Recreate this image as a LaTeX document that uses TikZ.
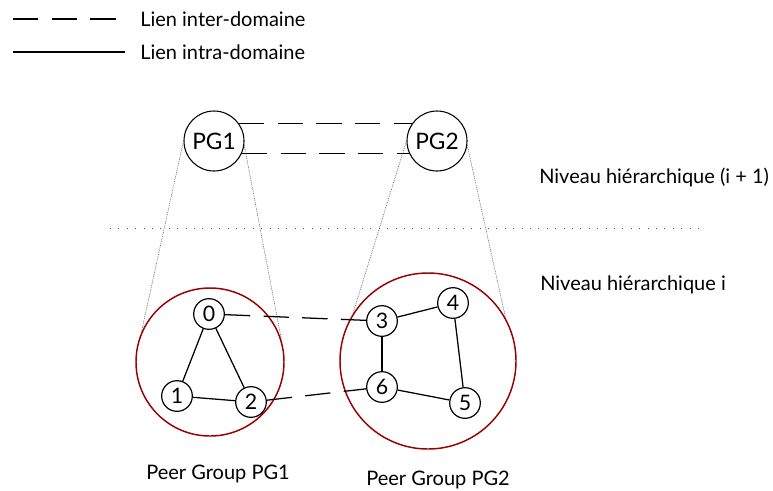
\documentclass[tikz,border=0pt]{standalone}
\usepackage{fontspec}
\setmainfont{Lato}
\begin{document}
\begin{tikzpicture}[x=0.75pt,y=-0.75pt,
    peer/.style={draw,circle,line width=0.9pt,minimum size=23pt,inner sep=0pt,font=\fontsize{16}{18}\selectfont},
    grp/.style={draw,circle,line width=0.8pt,minimum size=45pt,inner sep=0pt,font=\fontsize{17}{19}\selectfont},
    zone/.style={draw=red!60!black,circle,line width=1.1pt,inner sep=0pt},
    intra/.style={line width=0.95pt},
    inter/.style={line width=0.95pt,dash pattern=on 19pt off 10pt},
    zoomline/.style={gray!70!black,line width=0.4pt,dash pattern=on 0.7pt off 0.7pt},
    lbl/.style={anchor=west,inner sep=0pt},
    font=\fontsize{15}{18}\selectfont]
    \useasboundingbox (0,0) rectangle (773,490);
    %% legend
    \coordinate (d1) at (13,19);
    \coordinate (d2) at (118,19);
    \draw[inter] (d1) -- (d2);
    \node[lbl] (tinter) at (140,19) {Lien inter-domaine};
    \coordinate (s1) at (13,52);
    \coordinate (s2) at (125,52);
    \draw[intra] (s1) -- (s2);
    \node[lbl] (tintra) at (140,52) {Lien intra-domaine};
    %% upper level
    \node[grp] (pg1) at (214,141) {PG1};
    \node[grp] (pg2) at (437,141) {PG2};
    \draw[inter] (pg1.35) -- (pg2.145);
    \draw[inter] (pg1.-24) -- (pg2.-156);
    \node[lbl] (lvl1) at (539,177) {Niveau hiérarchique (i + 1)};
    %% separation
    \coordinate (sep1) at (110,228);
    \coordinate (sep2) at (700,228);
    \draw[gray!70!black,line width=0.7pt,dash pattern=on 0.7pt off 5.6pt] (sep1) -- (sep2);
    \node[lbl] (lvl0) at (540,285) {Niveau hiérarchique i};
    %% peer groups
    \node[zone,minimum size=111pt] (cl1) at (210,362) {};
    \node[zone,minimum size=132pt] (cl2) at (428,361) {};
    \draw[zoomline] (pg1.west) -- (cl1.157);
    \draw[zoomline] (pg1.-8) -- (cl1.17);
    \draw[zoomline] (pg2.west) -- (cl2.148);
    \draw[zoomline] (pg2.-8) -- (cl2.29);
    %% nodes
    \node[peer,fill=white] (n0) at (209,314) {0};
    \node[peer] (n1) at (177,396) {1};
    \node[peer] (n2) at (251,402) {2};
    \node[peer,fill=white] (n3) at (382,321) {3};
    \node[peer] (n4) at (453,303) {4};
    \node[peer] (n5) at (465,403) {5};
    \node[peer] (n6) at (382,387) {6};
    \draw[intra] (n0) -- (n1);
    \draw[intra] (n0) -- (n2);
    \draw[intra] (n1) -- (n2);
    \draw[intra] (n3) -- (n4);
    \draw[intra] (n3) -- (n6);
    \draw[intra] (n4) -- (n5);
    \draw[intra] (n6) -- (n5);
    \draw[inter] (n0) -- (n3);
    \draw[inter] (n2) -- (n6);
    %% labels
    \node (tpg1) at (218,474) {Peer Group PG1};
    \node (tpg2) at (438,480) {Peer Group PG2};
\end{tikzpicture}
\end{document}
